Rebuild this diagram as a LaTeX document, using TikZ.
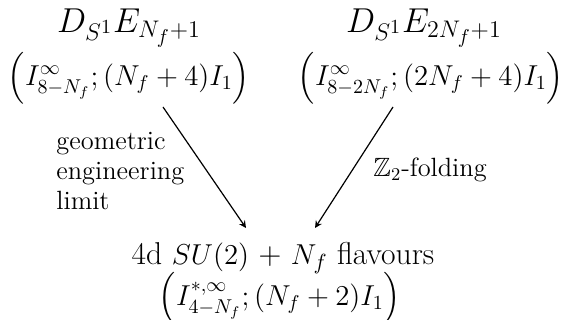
\documentclass[tikz,border=0pt]{standalone}
\usepackage{amssymb}
\begin{document}
\begin{tikzpicture}[x=0.5pt,y=-0.5pt,
  title/.style={font=\fontsize{17.28}{21}\selectfont, inner sep=0pt},
  btitle/.style={font=\fontsize{15.8}{19}\selectfont, inner sep=0pt},
  sub/.style={font=\fontsize{14.4}{18}\selectfont, inner sep=0pt},
  lbl/.style={font=\fontsize{13.2}{15.2}\selectfont, inner sep=0pt, align=left},
  arr/.style={-stealth, semithick}]
\useasboundingbox (0,0) rectangle (562,320);
\node[title] (a1) at (129,28) {$D_{S^1}E_{N_f+1}$};
\node[sub] (a2) at (129,78) {$\left(I^{\infty}_{8-N_f};(N_f+4)I_1\right)$};
\node[title] (b1) at (424,28) {$D_{S^1}E_{2N_f+1}$};
\node[sub] (b2) at (431,78) {$\left(I^{\infty}_{8-2N_f};(2N_f+4)I_1\right)$};
\node[btitle] (c1) at (283,258) {4d $SU(2)$ + $N_f$ flavours};
\node[sub] (c2) at (280,298) {$\left(I^{*,\infty}_{4-N_f};(N_f+2)I_1\right)$};
\node[lbl, anchor=west] (l1) at (56,171) {geometric\\engineering\\limit};
\node[lbl, anchor=west] (l2) at (373,170) {$\mathbb{Z}_2$-folding};
\coordinate (s1) at (163,107);
\coordinate (e1) at (246,228);
\coordinate (s2) at (393,107);
\coordinate (e2) at (315,228);
\draw[arr] (s1) -- (e1);
\draw[arr] (s2) -- (e2);
\end{tikzpicture}
\end{document}
